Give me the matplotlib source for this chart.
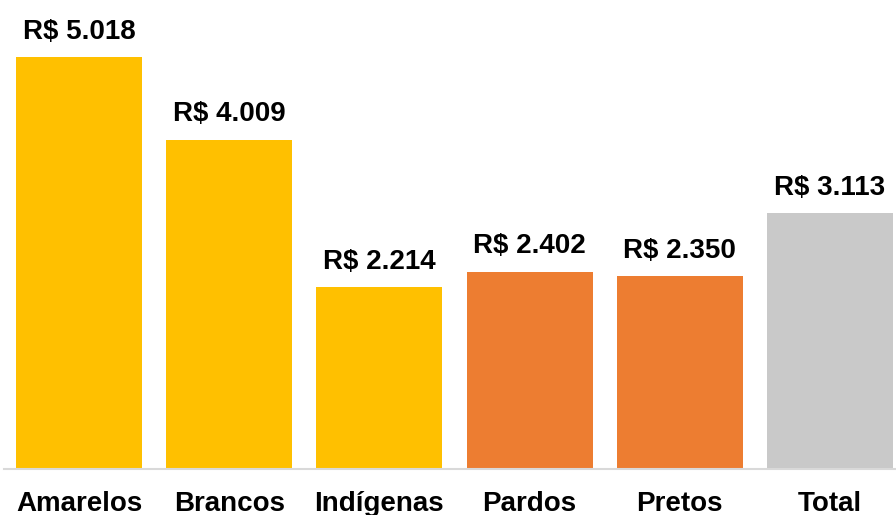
import matplotlib.pyplot as plt

categories = ["Amarelos", "Brancos", "Indígenas", "Pardos", "Pretos", "Total"]
values = [5018, 4009, 2214, 2402, 2350, 3113]
labels = ["R$ 5.018", "R$ 4.009", "R$ 2.214", "R$ 2.402", "R$ 2.350", "R$ 3.113"]
colors = ["#FFC000", "#FFC000", "#FFC000", "#ED7D31", "#ED7D31", "#C9C9C9"]

plt.rcParams['font.family'] = ['Liberation Sans', 'DejaVu Sans']

W, H = 896, 515
fig = plt.figure(figsize=(W / 100, H / 100), dpi=100)
# axes from x=4px to right edge, bottom at y=469px
ax = fig.add_axes([4 / W, 1 - 469 / H, 1 - 4 / W, 469 / H])

x = list(range(len(categories)))
ax.bar(x, values, width=0.84, color=colors, zorder=2)

px_per_unit = 412 / 5018
ax.set_ylim(0, 469 / px_per_unit)
ax.set_xlim(-(79 - 4) / 150.2, (896 - 79) / 150.2)

for xi, v, lab in zip(x, values, labels):
    ax.annotate(lab, (xi, v), xytext=(0, 9), textcoords="offset points",
                ha="center", va="bottom", fontsize=20, fontweight="bold")

for s in ["top", "right", "left"]:
    ax.spines[s].set_visible(False)
ax.spines["bottom"].set_color("#D9D9D9")
ax.spines["bottom"].set_linewidth(1.5)
ax.set_yticks([])
ax.set_xticks(x)
ax.set_xticklabels(categories, fontsize=20, fontweight="bold")
ax.tick_params(axis="x", length=0, pad=16)

fig.savefig("out.png", dpi=100)
